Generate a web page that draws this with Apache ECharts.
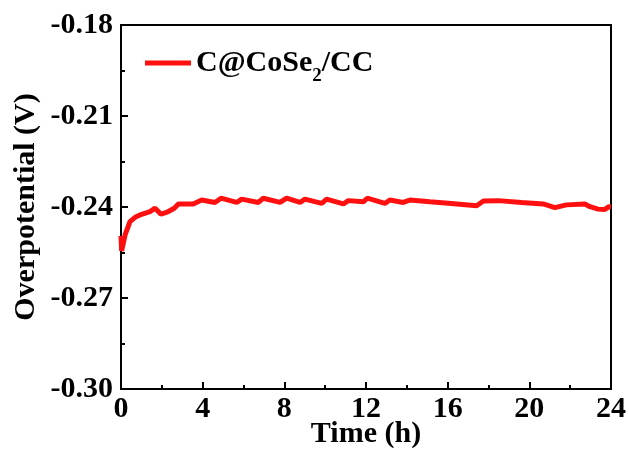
<!DOCTYPE html>
<html>
<head>
<meta charset="utf-8">
<script src="https://cdn.jsdelivr.net/npm/echarts@6/dist/echarts.min.js"></script>
<style>
  html, body { margin: 0; padding: 0; background: #fff; }
  #chart { width: 629px; height: 450px; }
</style>
</head>
<body>
<div id="chart"></div>
<script>
  // time (h) and overpotential (V)
  var timeH = [0, 0.03, 0.2, 0.44, 0.69, 1.01, 1.42, 1.67, 1.96, 2.32, 2.61, 2.81, 3.54, 3.95, 4.6, 4.9, 5.67, 5.91, 6.73, 6.97, 7.79, 8.11, 8.77, 9.01, 9.83, 10.07, 10.89, 11.13, 11.87, 12.06, 12.93, 13.17, 13.82, 14.15, 15.13, 16.03, 17.42, 17.75, 18.48, 19.62, 20.68, 21.25, 21.82, 22.72, 22.97, 23.37, 23.7, 23.9, 24];
  var potential = [-0.2495, -0.2545, -0.2492, -0.2448, -0.2434, -0.2424, -0.2415, -0.2404, -0.2424, -0.2415, -0.2404, -0.2390, -0.2390, -0.2377, -0.2385, -0.2371, -0.2385, -0.2374, -0.2385, -0.2371, -0.2385, -0.2371, -0.2385, -0.2374, -0.2388, -0.2374, -0.2390, -0.2379, -0.2383, -0.2371, -0.2388, -0.2377, -0.2385, -0.2377, -0.2383, -0.2388, -0.2396, -0.2380, -0.2379, -0.2385, -0.2390, -0.2402, -0.2393, -0.2390, -0.2399, -0.2407, -0.2408, -0.2399, -0.2400];
  var seriesName = 'C@CoSe2/CC';

  var font = '"Liberation Serif", "Times New Roman", serif';
  var points = [];
  for (var i = 0; i < timeH.length; i++) {
    points.push([timeH[i], potential[i]]);
  }

  var chart = echarts.init(document.getElementById('chart'));
  chart.setOption({
    animation: false,
    grid: {
      left: 121, right: 18, top: 25, bottom: 61,
      outerBoundsMode: 'none', containLabel: false,
      show: true, borderColor: '#000', borderWidth: 2
    },
    legend: {
      left: 140, top: 43,
      icon: 'rect',
      itemWidth: 46, itemHeight: 5,
      data: [seriesName],
      formatter: function () { return 'C@CoSe{sub|2}/CC'; },
      textStyle: {
        fontFamily: font, fontWeight: 'bold', fontSize: 30, color: '#000',
        rich: {
          sub: { fontFamily: font, fontWeight: 'bold', fontSize: 19, color: '#000', verticalAlign: 'bottom', padding: [0, 0, -8, 0] }
        }
      }
    },
    xAxis: {
      type: 'value', min: 0, max: 24, interval: 4,
      name: 'Time (h)', nameLocation: 'middle', nameGap: 30, nameMoveOverlap: false,
      nameTextStyle: { fontFamily: font, fontWeight: 'bold', fontSize: 30, color: '#000' },
      axisLine: { onZero: false, lineStyle: { color: '#000', width: 2 } },
      axisTick: { inside: true, length: 7, lineStyle: { color: '#000', width: 2 } },
      minorTick: { show: true, splitNumber: 2, length: 4, lineStyle: { color: '#000', width: 2 } },
      splitLine: { show: false },
      axisLabel: { margin: 5, fontFamily: font, fontWeight: 'bold', fontSize: 30, color: '#000' }
    },
    yAxis: {
      type: 'value', min: -0.30, max: -0.18, interval: 0.03,
      name: 'Overpotential (V)', nameLocation: 'middle', nameGap: 80, nameMoveOverlap: false,
      nameTextStyle: { fontFamily: font, fontWeight: 'bold', fontSize: 30, color: '#000' },
      axisLine: { onZero: false, lineStyle: { color: '#000', width: 2 } },
      axisTick: { inside: true, length: 7, lineStyle: { color: '#000', width: 2 } },
      minorTick: { show: true, splitNumber: 2, length: 4, lineStyle: { color: '#000', width: 2 } },
      splitLine: { show: false },
      axisLabel: {
        margin: 8, fontFamily: font, fontWeight: 'bold', fontSize: 30, color: '#000',
        formatter: function (v) { return v.toFixed(2); }
      }
    },
    series: [{
      name: seriesName,
      type: 'line',
      data: points,
      showSymbol: false,
      symbol: 'none',
      lineStyle: { color: '#ff1010', width: 5 },
      itemStyle: { color: '#ff1010' }
    }]
  });
</script>
</body>
</html>
